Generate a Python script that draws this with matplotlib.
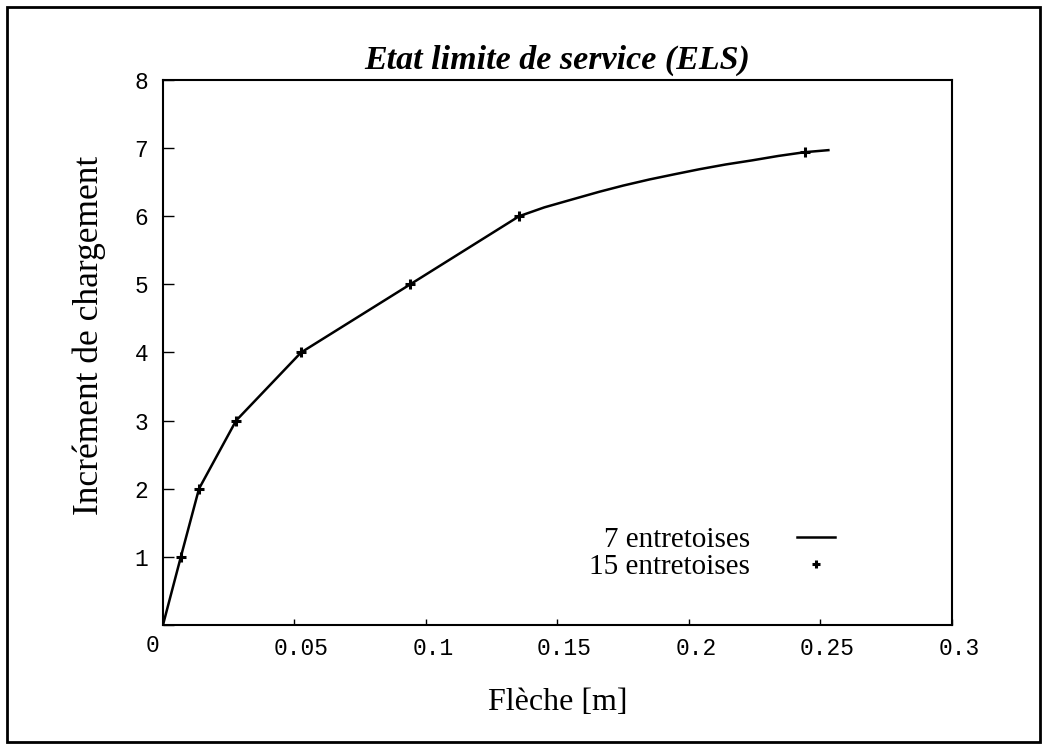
import numpy as np
import matplotlib
matplotlib.use("Agg")
import matplotlib.pyplot as plt
from matplotlib.lines import Line2D
from matplotlib.patches import Rectangle
import matplotlib.transforms as mtransforms

# Load increment vs deflection, 7 cross-beams (continuous curve)
fleche_7 = [0.0, 0.0068, 0.0137, 0.0278, 0.0525, 0.094, 0.1354, 0.145, 0.155,
            0.166, 0.175, 0.185, 0.195, 0.204, 0.214, 0.224, 0.234, 0.244, 0.253]
charge_7 = [0.0, 1.0, 2.0, 3.0, 4.0, 5.0, 6.0, 6.13, 6.24,
            6.36, 6.45, 6.54, 6.62, 6.69, 6.76, 6.82, 6.885, 6.94, 6.97]

# 15 cross-beams (points)
fleche_15 = [0.0068, 0.0137, 0.0278, 0.0525, 0.094, 0.1354, 0.244]
charge_15 = [1.0, 2.0, 3.0, 4.0, 5.0, 6.0, 6.95]

xticks = [0, 0.05, 0.1, 0.15, 0.2, 0.25, 0.3]
xticklabels = ['', '0.05', '0.1', '0.15', '0.2', '0.25', '0.3']
yticks = [0, 1, 2, 3, 4, 5, 6, 7, 8]
yticklabels = ['', '1', '2', '3', '4', '5', '6', '7', '8']

serif = 'Liberation Serif'
mono = 'Liberation Mono'

fig = plt.figure(figsize=(10.48, 7.46), dpi=100)
ax = fig.add_axes([0.1555, 0.1622, 0.7529, 0.7306])

ax.plot(fleche_7, charge_7, color='black', linewidth=1.8, solid_joinstyle='round')
ax.plot(fleche_15, charge_15, linestyle='none', marker='+', color='black',
        markersize=7, markeredgewidth=2.2)

ax.set_xlim(0, 0.3)
ax.set_ylim(0, 8)
ax.set_xticks(xticks)
ax.set_yticks(yticks)
ax.set_xticklabels(xticklabels, fontfamily=mono, fontsize=16.5)
ax.set_yticklabels(yticklabels, fontfamily=mono, fontsize=16.5)
ax.tick_params(axis='x', direction='in', length=4, width=1, pad=9)
ax.tick_params(axis='y', direction='in', length=8, width=1, pad=10.5)

# shift x tick labels a bit to the right
offset = mtransforms.ScaledTranslation(7 / 100, 0, fig.dpi_scale_trans)
for lbl in ax.get_xticklabels():
    lbl.set_transform(lbl.get_transform() + offset)

# shared origin label
ax.annotate('0', xy=(0, 0), xytext=(-10, -21), textcoords='offset pixels',
            ha='center', va='center', fontfamily=mono, fontsize=16.5)

for sp in ax.spines.values():
    sp.set_linewidth(1.5)

ax.set_title('Etat limite de service (ELS)', fontfamily=serif, fontsize=24.5,
             fontweight='bold', fontstyle='italic', pad=8)
ax.set_xlabel('Flèche [m]', fontfamily=serif, fontsize=23)
ax.set_ylabel('Incrément de chargement', fontfamily=serif, fontsize=25.5)
ax.xaxis.set_label_coords(0.5, -0.115)
ax.yaxis.set_label_coords(-0.072, 0.532)

handles = [Line2D([], [], color='black', linewidth=1.8),
           Line2D([], [], color='black', linestyle='none', marker='+',
                  markersize=6, markeredgewidth=2.2)]
ax.legend(handles, ['7 entretoises', '15 entretoises'], loc='center',
          bbox_to_anchor=(0.696, 0.131), markerfirst=False, frameon=False,
          prop={'family': serif, 'size': 21}, handlelength=1.3,
          handletextpad=1.6, labelspacing=0.02, borderpad=0)

# frame around the whole figure
fig.patches.append(Rectangle((0.0067, 0.006), 0.9855, 0.985, transform=fig.transFigure,
                             fill=False, edgecolor='black', linewidth=2))

fig.savefig('out.png', dpi=100)
